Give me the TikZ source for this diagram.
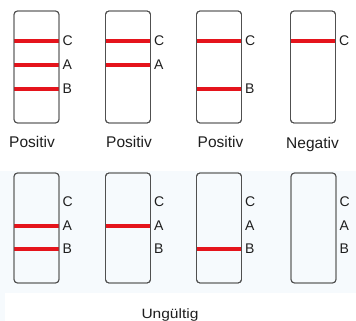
\documentclass[tikz,border=0pt]{standalone}
\usepackage{fontspec}
\setmainfont{Liberation Sans}
\definecolor{bandred}{HTML}{E5141C}
\definecolor{framegray}{HTML}{505050}
\definecolor{tint}{HTML}{F6FAFD}
\definecolor{ink}{HTML}{1E1E1E}
\begin{document}
\begin{tikzpicture}[x=1pt,y=-1pt,
  strip/.style={draw=framegray, line width=0.9pt, rounded corners=3.5pt,
    minimum width=45pt, inner sep=0pt, outer sep=0pt},
  band/.style={bandred, line width=4.5pt},
  letter/.style={font=\fontsize{14}{14}\selectfont, text=ink, anchor=west, inner sep=0pt},
  caption/.style={font=\fontsize{15.5}{16}\selectfont, text=ink, anchor=base, inner sep=0pt}]
\useasboundingbox (0,0) rectangle (356,321);

% shaded lower panel
\fill[tint] (0,171) rectangle (356,321);
\fill[white] (5,293) rectangle (356,321);

% upper row of test strips
\node[strip, minimum height=112pt] (t1) at (36.5,67) {};
\node[strip, minimum height=112pt] (t2) at (128,67) {};
\node[strip, minimum height=112pt] (t3) at (219,67) {};
\node[strip, minimum height=112pt] (t4) at (313,67) {};

% lower row of test strips
\node[strip, minimum height=110pt] (b1) at (36.5,228) {};
\node[strip, minimum height=110pt] (b2) at (128,228) {};
\node[strip, minimum height=110pt] (b3) at (219,228) {};
\node[strip, minimum height=110pt] (b4) at (313.5,228) {};

% red result bands (upper row: C=41, A=65, B=89)
\foreach \s/\y in {t1/41, t1/65, t1/89, t2/41, t2/65, t3/41, t3/89, t4/41,
                   b1/226, b1/249, b2/226, b3/249}
  \draw[band] (\s.west |- 0,\y) -- (\s.east |- 0,\y);

% redraw the frames over the bands
\foreach \s in {t1,t2,t3,t4,b1,b2,b3,b4}
  \draw[draw=framegray, line width=0.9pt, rounded corners=3.5pt]
    (\s.north west) rectangle (\s.south east);

% band letters
\foreach \s/\t/\y in {t1/C/41, t1/A/65, t1/B/89, t2/C/41, t2/A/65,
                      t3/C/41, t3/B/89, t4/C/41}
  \node[letter] (l\s\t) at ([xshift=3.5pt]\s.east |- 0,\y) {\t};
\foreach \s in {b1,b2,b3,b4}{
  \node[letter] (l\s C) at ([xshift=3.5pt]\s.east |- 0,202) {C};
  \node[letter] (l\s A) at ([xshift=3.5pt]\s.east |- 0,226) {A};
  \node[letter] (l\s B) at ([xshift=3.5pt]\s.east |- 0,249) {B};
}

% captions
\node[caption] (c1) at (32,147) {Positiv};
\node[caption] (c2) at (129,147) {Positiv};
\node[caption] (c3) at (220.5,147) {Positiv};
\node[caption] (c4) at (312.5,148) {Negativ};
\node[caption, font=\fontsize{13.5}{14}\selectfont] (c5) at (170,318)
  {\scalebox{1.15}[1]{Ungültig}};
\end{tikzpicture}
\end{document}
